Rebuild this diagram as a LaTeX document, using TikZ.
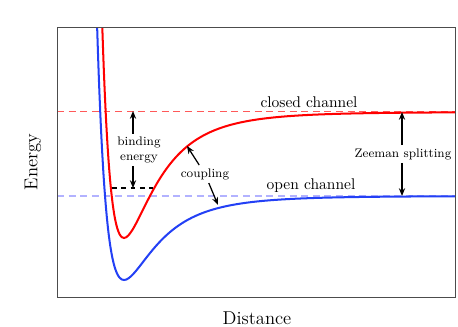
\documentclass[tikz,border=0pt]{standalone}
\definecolor{closedred}{HTML}{FF0000}
\definecolor{openblue}{HTML}{2340F5}
\usepackage{tikz}
\usetikzlibrary{calc, positioning, arrows.meta}

\begin{document}
\begin{tikzpicture}[x=0.645pt, y=-0.645pt,
    arr/.style={-{Stealth[length=5pt,width=4pt]}, line width=0.8pt},
    smalltxt/.style={font=\footnotesize, inner sep=2pt},
    curve/.style={line width=1.3pt, samples=160, smooth}]
  \useasboundingbox (0,0) rectangle (458,326);
  % thresholds of the two channels
  \draw[closedred!65, line width=0.6pt, dash pattern=on 4.5pt off 3pt] (57,111) -- (455,111);
  \draw[blue!30, line width=1pt, dash pattern=on 4.5pt off 3pt] (57,196) -- (455,196);
  % potential curves
  \begin{scope}
    \clip (57,27) rectangle (455,297);
    \draw[curve, openblue, domain=92:455]
      plot (\x, {196 - 84*((174/(\x+50))^12 - 2*(174/(\x+50))^6)});
    \draw[curve, closedred, domain=97:455]
      plot (\x, {112 - 126*((168/(\x+44))^12 - 2*(168/(\x+44))^6)});
  \end{scope}
  \draw[black!70, line width=0.6pt] (57,27) rectangle (455,297);
  % bound state
  \coordinate (bsl) at (112,188);
  \coordinate (bsr) at (153,188);
  \draw[line width=0.8pt, dashed] (bsl) -- (bsr);
  % labels
  \node (closed) at (309,102) {closed channel};
  \node (open) at (311,186) {open channel};
  \node[smalltxt, align=center] (bind) at (139,150) {binding\\energy};
  \node[smalltxt] (cpl) at (205,174) {coupling};
  \node[smalltxt] (zee) at (403,154) {Zeeman splitting};
  \node[font=\large, rotate=90] (ylab) at (33,162) {Energy};
  \node[font=\large] (xlab) at (257,318) {Distance};
  % arrows
  \coordinate (bindtop) at (133,111);
  \coordinate (bindbot) at (133,188);
  \draw[arr] (bind.north -| bindtop) -- (bindtop);
  \draw[arr] (bind.south -| bindbot) -- (bindbot);
  \coordinate (cpltop) at (187,146);
  \coordinate (cplbot) at (218,205);
  \draw[arr] (cpl) -- (cpltop);
  \draw[arr] (cpl) -- (cplbot);
  \coordinate (zeetop) at (402,112);
  \coordinate (zeebot) at (402,196);
  \draw[arr] (zee.north -| zeetop) -- (zeetop);
  \draw[arr] (zee.south -| zeebot) -- (zeebot);
\end{tikzpicture}
\end{document}
